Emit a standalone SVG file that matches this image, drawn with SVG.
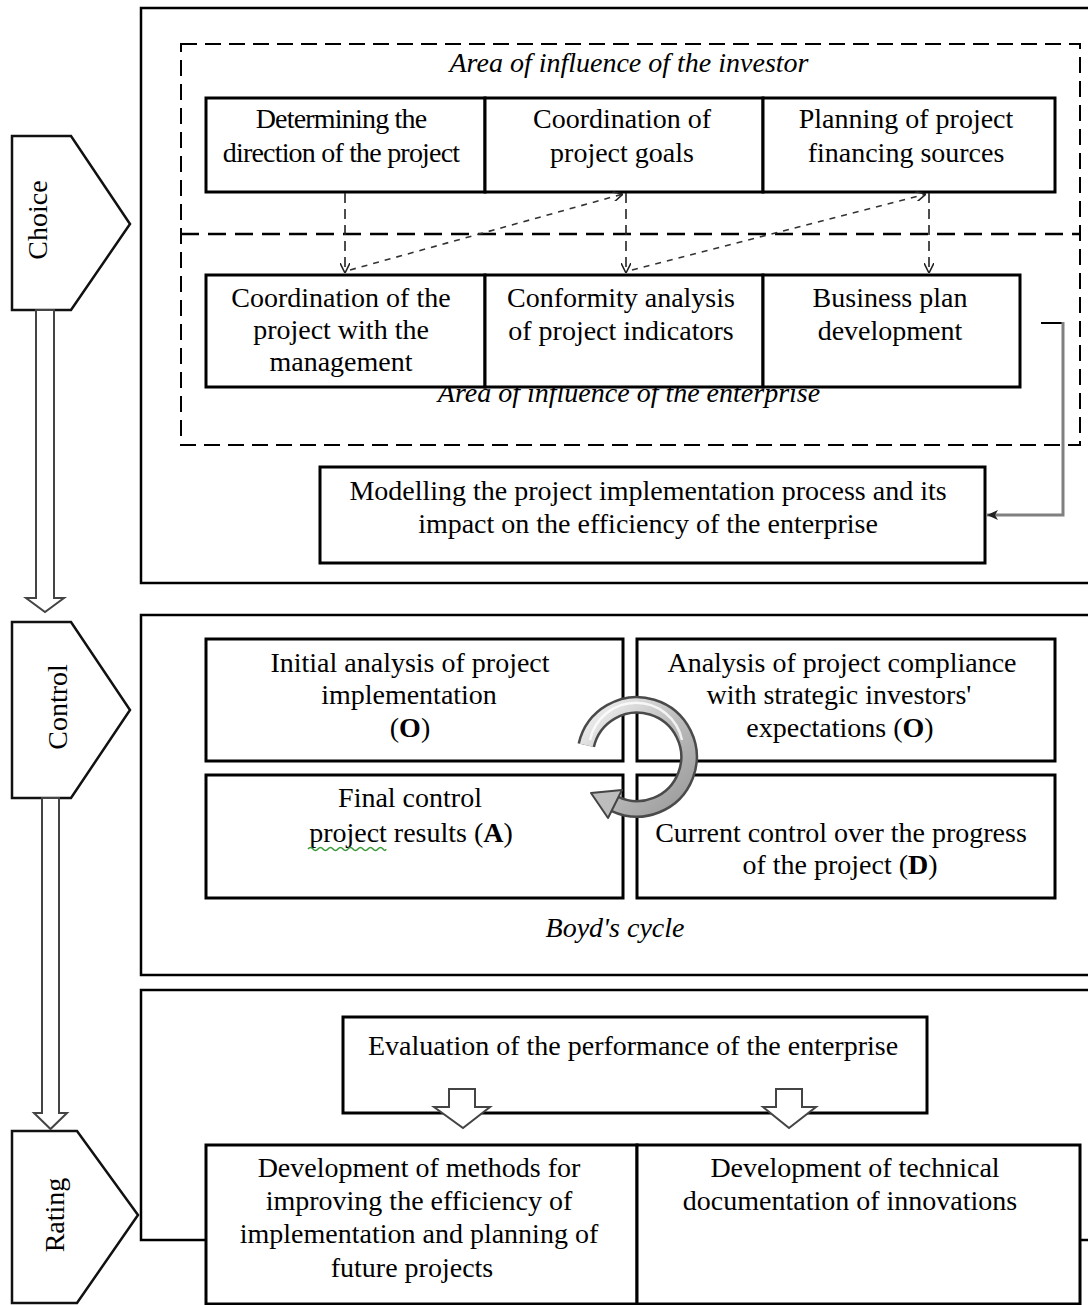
<svg xmlns="http://www.w3.org/2000/svg" width="1088" height="1305" viewBox="0 0 1088 1305">
<style>
  .t{font-family:"Liberation Serif","Times New Roman",serif;font-size:28px;fill:#000;text-anchor:middle}
  .ti{font-family:"Liberation Serif","Times New Roman",serif;font-size:28px;font-style:italic;fill:#000;text-anchor:middle}
  .box{fill:#fff;stroke:#000;stroke-width:3}
  .frame{fill:none;stroke:#000;stroke-width:2.5}
  .pent{fill:#fff;stroke:#111;stroke-width:2.5}
  .hollow{fill:#fff;stroke:#444;stroke-width:2}
  .dv{fill:none;stroke:#222;stroke-width:1.6;stroke-dasharray:10 6}
  .dd{fill:none;stroke:#333;stroke-width:1.6;stroke-dasharray:6 6}
</style>
<defs>
  <marker id="v" viewBox="0 0 10 10" refX="10" refY="5" markerWidth="10" markerHeight="10" markerUnits="userSpaceOnUse" orient="auto">
    <path d="M0,0 L10,5 L0,10" fill="none" stroke="#222" stroke-width="1.6"/>
  </marker>
  <marker id="ga" viewBox="0 0 12 12" refX="11" refY="6" markerWidth="12" markerHeight="12" markerUnits="userSpaceOnUse" orient="auto">
    <path d="M0,1 L11,6 L0,11 L3,6 z" fill="#222"/>
  </marker>
  <linearGradient id="met" x1="0" y1="0" x2="1" y2="1">
    <stop offset="0" stop-color="#f4f4f4"/>
    <stop offset="0.5" stop-color="#bdbdbd"/>
    <stop offset="1" stop-color="#9a9a9a"/>
  </linearGradient>
</defs>

<!-- section frames -->
<g id="frame-choice"><rect class="frame" x="141" y="8" width="1000" height="575"/></g>
<g id="frame-control"><rect class="frame" x="141" y="615" width="1000" height="360"/></g>
<g id="frame-rating"><rect class="frame" x="141" y="990" width="1000" height="250"/></g>

<!-- left stage pentagons -->
<g id="stage-choice">
  <polygon class="pent" points="12,136 71,136 130,224 71,310 12,310"/>
  <text class="t" transform="translate(47,220) rotate(-90)">Choice</text>
</g>
<g id="stage-control">
  <polygon class="pent" points="12,622 71,622 130,710 71,798 12,798"/>
  <text class="t" transform="translate(67,707) rotate(-90)">Control</text>
</g>
<g id="stage-rating">
  <polygon class="pent" points="12,1131 77,1131 138,1215 77,1303 12,1303"/>
  <text class="t" transform="translate(64,1215) rotate(-90)">Rating</text>
</g>

<!-- dashed influence areas -->
<g id="area-investor">
  <rect x="181" y="44" width="899" height="401" fill="none" stroke="#000" stroke-width="2" stroke-dasharray="16 8"/>
  <line x1="181" y1="234" x2="1080" y2="234" stroke="#000" stroke-width="2.5" stroke-dasharray="18 9"/>
  <text class="ti" x="629" y="72">Area of influence of the investor</text>
</g>
<g id="area-enterprise">
  <text class="ti" x="629" y="402">Area of influence of the enterprise</text>
</g>

<!-- Choice nodes -->
<g id="n-direction"><rect class="box" x="206" y="98" width="279" height="94"/>
  <text class="t" x="341" y="128" letter-spacing="-0.8">Determining the</text>
  <text class="t" x="341" y="162" letter-spacing="-0.8">direction of the project</text></g>
<g id="n-goals"><rect class="box" x="485" y="98" width="278" height="94"/>
  <text class="t" x="622" y="128">Coordination of</text>
  <text class="t" x="622" y="162">project goals</text></g>
<g id="n-financing"><rect class="box" x="763" y="98" width="292" height="94"/>
  <text class="t" x="906" y="128">Planning of project</text>
  <text class="t" x="906" y="162">financing sources</text></g>

<g id="n-management"><rect class="box" x="206" y="275" width="279" height="112"/>
  <text class="t" x="341" y="307">Coordination of the</text>
  <text class="t" x="341" y="339">project with the</text>
  <text class="t" x="341" y="371">management</text></g>
<g id="n-conformity"><rect class="box" x="485" y="275" width="278" height="112"/>
  <text class="t" x="621" y="307">Conformity analysis</text>
  <text class="t" x="621" y="340">of project indicators</text></g>
<g id="n-business"><rect class="box" x="763" y="275" width="257" height="112"/>
  <text class="t" x="890" y="307">Business plan</text>
  <text class="t" x="890" y="340">development</text></g>

<g id="n-modelling"><rect class="box" x="320" y="467" width="665" height="96"/>
  <text class="t" x="648" y="500">Modelling the project implementation process and its</text>
  <text class="t" x="648" y="533">impact on the efficiency of the enterprise</text></g>

<!-- Control nodes -->
<g id="n-initial"><rect class="box" x="206" y="639" width="417" height="122"/>
  <text class="t" x="410" y="672">Initial analysis of project</text>
  <text class="t" x="409" y="704">implementation</text>
  <text class="t" x="410" y="737">(<tspan font-weight="bold">O</tspan>)</text></g>
<g id="n-compliance"><rect class="box" x="637" y="639" width="418" height="122"/>
  <text class="t" x="842" y="672">Analysis of project compliance</text>
  <text class="t" x="839" y="704">with strategic investors'</text>
  <text class="t" x="840" y="737">expectations (<tspan font-weight="bold">O</tspan>)</text></g>
<g id="n-final"><rect class="box" x="206" y="775" width="417" height="123"/>
  <text class="t" x="410" y="807">Final control</text>
  <text class="t" x="411" y="842">project results (<tspan font-weight="bold">A</tspan>)</text>
  <path d="M308,849 q2.5,-3 5,0 t5,0 t5,0 t5,0 t5,0 t5,0 t5,0 t5,0 t5,0 t5,0 t5,0 t5,0 t5,0 t5,0 t5,0 t3,0" fill="none" stroke="#3a9a3a" stroke-width="1.5"/></g>
<g id="n-current"><rect class="box" x="637" y="775" width="418" height="123"/>
  <text class="t" x="841" y="842">Current control over the progress</text>
  <text class="t" x="840" y="874">of the project (<tspan font-weight="bold">D</tspan>)</text></g>
<g id="label-boyd"><text class="ti" x="615" y="937">Boyd's cycle</text></g>

<!-- Rating nodes -->
<g id="n-evaluation"><rect class="box" x="343" y="1017" width="584" height="96"/>
  <text class="t" x="633" y="1055">Evaluation of the performance of the enterprise</text></g>
<g id="n-methods"><rect class="box" x="206" y="1145" width="431" height="159"/>
  <text class="t" x="419" y="1177">Development of methods for</text>
  <text class="t" x="419" y="1210">improving the efficiency of</text>
  <text class="t" x="419" y="1243">implementation and planning of</text>
  <text class="t" x="412" y="1277">future projects</text></g>
<g id="n-technical"><rect class="box" x="637" y="1145" width="443" height="159"/>
  <text class="t" x="855" y="1177">Development of technical</text>
  <text class="t" x="850" y="1210">documentation of innovations</text></g>

<!-- connectors -->
<g id="connectors">
  <!-- stage flow arrows -->
  <polygon class="hollow" points="36,310 54,310 54,598 64,598 45,612 26,598 36,598"/>
  <polygon class="hollow" points="42,798 59,798 59,1113 67,1113 50.5,1129 34,1113 42,1113"/>
  <!-- dashed vertical arrows -->
  <line class="dv" x1="345" y1="193" x2="345" y2="273" marker-end="url(#v)"/>
  <line class="dv" x1="626" y1="193" x2="626" y2="273" marker-end="url(#v)"/>
  <line class="dv" x1="929" y1="193" x2="929" y2="273" marker-end="url(#v)"/>
  <!-- dashed diagonal arrows -->
  <line class="dd" x1="350" y1="270" x2="623" y2="194" marker-end="url(#v)"/>
  <line class="dd" x1="632" y1="270" x2="926" y2="194" marker-end="url(#v)"/>
  <!-- business plan to modelling -->
  <line x1="1041" y1="323" x2="1063" y2="323" stroke="#000" stroke-width="2"/>
  <polyline points="1063,322 1063,515 987,515" fill="none" stroke="#808080" stroke-width="3" marker-end="url(#ga)"/>
  <!-- Boyd's cycle circular arrow -->
  <path d="M586.3,745.3 A52,52 0 1 1 615,804" fill="none" stroke="#4a4a4a" stroke-width="18"/>
  <path d="M586.3,745.3 A52,52 0 1 1 615,804" fill="none" stroke="url(#met)" stroke-width="13"/>
  <path d="M590,740 A47,47 0 0 1 682,740" fill="none" stroke="#fff" stroke-width="2.5" opacity="0.8"/>
  <polygon points="608,818 622,790 591,793" fill="#bdbdbd" stroke="#444" stroke-width="2" stroke-linejoin="round"/>
  <!-- evaluation down arrows -->
  <polygon class="hollow" points="449,1089 475,1089 475,1107 490,1107 463,1128 434,1107 449,1107"/>
  <polygon class="hollow" points="776,1089 802,1089 802,1107 816,1107 789,1128 763,1107 776,1107"/>
</g>
</svg>
